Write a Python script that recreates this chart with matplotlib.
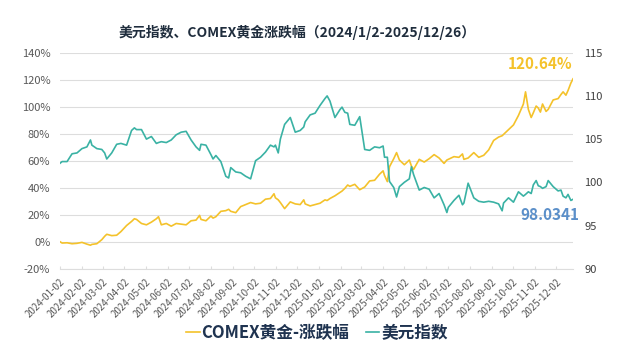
import matplotlib
matplotlib.use("Agg")
import matplotlib.pyplot as plt
import matplotlib.dates as mdates
from matplotlib.lines import Line2D
from matplotlib.ticker import FuncFormatter, MultipleLocator
import pandas as pd

plt.rcParams["font.family"] = ["Noto Sans CJK SC", "DejaVu Sans"]

# weekly-ish readings (plus a few turning points)
dates = [
    "2024-01-02", "2024-01-05", "2024-01-12", "2024-01-19", "2024-01-26", "2024-02-02",
    "2024-02-09", "2024-02-14", "2024-02-16", "2024-02-23", "2024-03-01", "2024-03-05",
    "2024-03-08", "2024-03-15", "2024-03-22", "2024-03-28", "2024-04-05", "2024-04-12",
    "2024-04-16", "2024-04-19", "2024-04-26", "2024-05-03", "2024-05-10", "2024-05-17",
    "2024-05-20", "2024-05-24", "2024-05-31", "2024-06-07", "2024-06-14", "2024-06-21",
    "2024-06-28", "2024-07-05", "2024-07-12", "2024-07-17", "2024-07-19", "2024-07-26",
    "2024-08-02", "2024-08-05", "2024-08-09", "2024-08-16", "2024-08-23", "2024-08-27",
    "2024-08-30", "2024-09-06", "2024-09-13", "2024-09-20", "2024-09-27", "2024-10-04",
    "2024-10-11", "2024-10-18", "2024-10-25", "2024-10-30", "2024-11-01", "2024-11-05",
    "2024-11-08", "2024-11-14", "2024-11-22", "2024-11-29", "2024-12-06", "2024-12-11",
    "2024-12-13", "2024-12-20", "2024-12-27", "2025-01-03", "2025-01-10", "2025-01-13",
    "2025-01-17", "2025-01-24", "2025-01-31", "2025-02-03", "2025-02-07", "2025-02-11",
    "2025-02-14", "2025-02-21", "2025-02-28", "2025-03-07", "2025-03-14", "2025-03-21",
    "2025-03-28", "2025-04-02", "2025-04-04", "2025-04-08", "2025-04-11", "2025-04-17",
    "2025-04-21", "2025-04-25", "2025-05-02", "2025-05-09", "2025-05-12", "2025-05-15",
    "2025-05-23", "2025-05-30", "2025-06-06", "2025-06-13", "2025-06-20", "2025-06-27",
    "2025-07-01", "2025-07-03", "2025-07-11", "2025-07-18", "2025-07-23", "2025-07-25",
    "2025-07-31", "2025-08-08", "2025-08-15", "2025-08-22", "2025-08-29", "2025-09-05",
    "2025-09-12", "2025-09-17", "2025-09-19", "2025-09-26", "2025-10-03", "2025-10-10",
    "2025-10-17", "2025-10-20", "2025-10-24", "2025-10-28", "2025-10-31", "2025-11-04",
    "2025-11-07", "2025-11-10", "2025-11-13", "2025-11-18", "2025-11-21", "2025-11-28",
    "2025-12-05", "2025-12-09", "2025-12-12", "2025-12-16", "2025-12-19", "2025-12-23",
    "2025-12-26",
]
gold_pct = [
    0.0, -1.0, -0.8, -1.5, -1.2, -0.5,
    -1.8, -2.6, -2.0, -1.5, 1.5, 4.0,
    5.5, 4.5, 4.8, 7.5, 12.0, 15.0,
    17.0, 16.5, 13.5, 12.5, 14.5, 17.0,
    18.5, 12.5, 13.5, 11.5, 13.5, 13.0,
    12.5, 15.5, 16.0, 19.5, 16.5, 15.5,
    19.0, 17.5, 18.5, 22.5, 23.0, 24.0,
    22.5, 21.5, 26.0, 27.5, 29.0, 28.0,
    28.5, 31.5, 32.0, 35.5, 32.5, 31.0,
    29.0, 24.5, 29.5, 28.0, 27.5, 31.0,
    28.0, 26.5, 27.5, 28.5, 31.0, 30.5,
    32.0, 34.0, 36.5, 37.5, 39.5, 42.0,
    41.0, 42.5, 38.5, 40.5, 45.0, 45.5,
    50.0, 52.5, 49.0, 44.5, 55.5, 61.5,
    66.0, 60.5, 57.0, 60.5, 56.0, 53.5,
    61.0, 59.0, 61.5, 64.5, 62.0, 58.0,
    60.5, 61.0, 63.0, 62.5, 65.0, 61.0,
    62.0, 66.0, 62.5, 64.0, 68.0, 75.0,
    77.5, 78.5, 79.5, 83.0, 86.5, 93.5,
    102.0, 111.0, 98.0, 92.0, 95.5, 100.5,
    99.0, 96.0, 102.0, 96.5, 98.0, 105.0,
    106.0, 109.0, 111.0, 108.5, 112.0, 117.5,
    120.64,
]
dxy = [
    102.2, 102.4, 102.4, 103.3, 103.4, 103.9,
    104.1, 104.9, 104.3, 103.9, 103.8, 103.4,
    102.7, 103.4, 104.4, 104.5, 104.3, 106.0,
    106.3, 106.1, 106.1, 105.0, 105.3, 104.5,
    104.6, 104.7, 104.6, 104.9, 105.5, 105.8,
    105.9, 104.9, 104.1, 103.7, 104.4, 104.3,
    103.2, 102.7, 103.1, 102.4, 100.7, 100.5,
    101.7, 101.2, 101.1, 100.7, 100.4, 102.5,
    102.9, 103.5, 104.3, 104.1, 104.3, 103.4,
    105.0, 106.7, 107.5, 105.8, 106.0, 106.4,
    107.0, 107.8, 108.0, 108.9, 109.7, 110.0,
    109.4, 107.5, 108.4, 108.7, 108.1, 108.0,
    106.7, 106.6, 107.6, 103.8, 103.7, 104.1,
    104.0, 104.2, 102.9, 102.9, 100.1, 99.4,
    98.3, 99.5, 100.0, 100.4, 101.8, 100.9,
    99.1, 99.4, 99.2, 98.2, 98.7, 97.4,
    96.5, 97.1, 97.9, 98.5, 97.4, 97.6,
    99.9, 98.2, 97.8, 97.7, 97.8, 97.7,
    97.5, 96.7, 97.6, 98.2, 97.7, 98.9,
    98.4, 98.6, 98.9, 98.7, 99.7, 100.2,
    99.6, 99.5, 99.3, 99.5, 100.2, 99.5,
    99.0, 99.1, 98.4, 98.2, 98.6, 97.9,
    98.0341,
]
gold_label = "COMEX黄金-涨跌幅"
dxy_label = "美元指数"
title = "美元指数、COMEX黄金涨跌幅（2024/1/2-2025/12/26）"

x = pd.to_datetime(dates)
gold_c = "#F4C22B"
teal_c = "#3AB2A4"
grid_c = "#DDDDDD"
tick_c = "#595959"

fig = plt.figure(figsize=(6.4, 3.53), dpi=100)
ax = fig.add_axes([60 / 640, 1 - 268.7 / 353, 513 / 640, 216 / 353])
ax2 = ax.twinx()

ax.plot(x, gold_pct, color=gold_c, lw=1.2, zorder=3)
ax2.plot(x, dxy, color=teal_c, lw=1.2, zorder=3)

ax.set_xlim(x[0], x[-1])
ax.set_ylim(-20, 140)
ax2.set_ylim(90, 115)
ax.yaxis.set_major_locator(MultipleLocator(20))
ax2.yaxis.set_major_locator(MultipleLocator(5))
ax.yaxis.set_major_formatter(FuncFormatter(lambda v, p: f"{v:.0f}%"))
ax.grid(axis="y", color=grid_c, lw=0.8)
ax.set_axisbelow(True)

ax.xaxis.set_major_locator(mdates.MonthLocator(bymonthday=2))
ax.xaxis.set_major_formatter(mdates.DateFormatter("%Y-%m-%d"))
for lab in ax.get_xticklabels():
    lab.set_rotation(45)
    lab.set_ha("right")
    lab.set_va("top")
    lab.set_rotation_mode("anchor")

for a in (ax, ax2):
    for s in a.spines.values():
        s.set_visible(False)
ax.spines["bottom"].set_visible(True)
ax.spines["bottom"].set_color(grid_c)
ax.tick_params(axis="x", labelsize=7, colors=tick_c, length=2.5, direction="in", pad=6)
ax.tick_params(axis="x", which="both", color=grid_c)
ax.tick_params(axis="y", labelsize=8, colors=tick_c, length=0, pad=7)
ax2.tick_params(axis="y", labelsize=8, colors="#404040", length=0, pad=8)

ax.annotate("120.64%", xy=(x[-1], gold_pct[-1]), xytext=(-24, 10.5),
            textcoords="offset points", ha="center", va="center",
            fontsize=11, fontweight="bold", color=gold_c)
ax2.annotate(f"{dxy[-1]:.4f}", xy=(x[-1], dxy[-1]), xytext=(-16.5, -11.5),
             textcoords="offset points", ha="center", va="center",
             fontsize=11, fontweight="bold", color="#5B8FC9")

fig.text(297 / 640, 1 - 32 / 353, title, ha="center", va="center",
         fontsize=10, fontweight="bold", color="#1F2D3D")

handles = [Line2D([], [], color=gold_c, lw=1.2), Line2D([], [], color=teal_c, lw=1.2)]
leg = fig.legend(handles, [gold_label, dxy_label], loc="center",
                 bbox_to_anchor=(317 / 640, 1 - 333 / 353), ncol=2, frameon=False,
                 handlelength=0.8, handletextpad=0.1, columnspacing=1.0,
                 prop={"size": 12, "weight": "bold"})
for t in leg.get_texts():
    t.set_color("#1F3350")

fig.savefig("out.png", dpi=100)
